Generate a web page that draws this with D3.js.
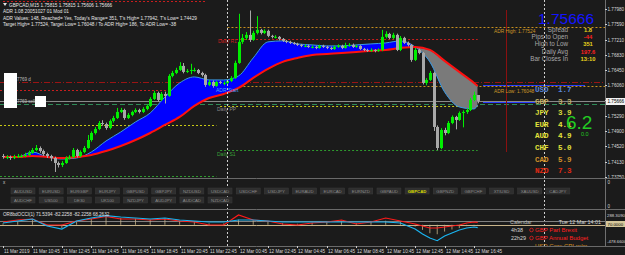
<!DOCTYPE html>
<html>
<head>
<meta charset="utf-8">
<script src="https://cdn.jsdelivr.net/npm/d3@7"></script>
<style>
body { margin: 0; background: #1b1b1b; overflow: hidden; }
svg { display: block; }
text { font-family: "Liberation Sans", Arial, sans-serif; }
.mono { font-family: "Liberation Mono", "Courier New", monospace; font-weight: bold; }
</style>
</head>
<body>
<div id="chart"></div>
<script>
// ---- GBPCAD M15 candles (bar 0 = 11 Mar 08:45) ----
const opens = [1.74279,1.74254,1.74254,1.74228,1.74254,1.74279,1.74279,1.74304,1.74354,1.74430,
  1.74480,1.74405,1.74329,1.74279,1.74228,1.74102,1.74052,1.74102,1.74228,1.74254,
  1.74430,1.74279,1.74380,1.74480,1.74682,1.74858,1.74959,1.75110,1.75085,1.74984,
  1.75161,1.75236,1.75388,1.75438,1.75236,1.75312,1.75388,1.75438,1.75388,1.75463,
  1.75539,1.75715,1.75866,1.75690,1.75841,1.75791,1.76295,1.76370,1.76446,1.76547,
  1.76396,1.76421,1.76446,1.76446,1.76370,1.76320,1.76068,1.76144,1.76043,1.76144,
  1.76118,1.76118,1.76169,1.76244,1.76622,1.77152,1.77252,1.77328,1.77202,1.77378,
  1.77454,1.77378,1.77429,1.77303,1.77278,1.77278,1.77227,1.77177,1.77152,1.77126,
  1.77101,1.77076,1.77051,1.77051,1.77026,1.77026,1.77000,1.77051,1.77026,1.77000,
  1.76975,1.77026,1.77051,1.77000,1.77051,1.77076,1.77026,1.77051,1.76975,1.76950,
  1.76925,1.76950,1.76925,1.76950,1.77278,1.77353,1.77252,1.77328,1.76950,1.77252,
  1.77126,1.77076,1.76698,1.76950,1.76874,1.76118,1.76194,1.76370,1.75010,1.74480,
  1.74934,1.74858,1.75110,1.75262,1.75186,1.75362,1.75388,1.75438,1.75690,1.75815];
const highs = [1.74330,1.74300,1.74290,1.74310,1.74330,1.74320,1.74360,1.74410,1.74480,1.74556,
  1.74520,1.74440,1.74360,1.74310,1.74260,1.74140,1.74150,1.74270,1.74300,1.74480,
  1.74460,1.74420,1.74530,1.74808,1.74900,1.75010,1.75160,1.75180,1.75120,1.75200,
  1.75290,1.75489,1.75490,1.75470,1.75360,1.75420,1.75480,1.75470,1.75510,1.75580,
  1.75760,1.75920,1.75900,1.75890,1.75900,1.76340,1.76420,1.76500,1.76640,1.76620,
  1.76470,1.76600,1.76500,1.76470,1.76400,1.76350,1.76190,1.76180,1.76170,1.76170,
  1.76160,1.76200,1.76290,1.76680,1.77860,1.77350,1.77400,1.77942,1.77430,1.77800,
  1.77480,1.77470,1.77460,1.77330,1.77320,1.77300,1.77250,1.77200,1.77180,1.77150,
  1.77130,1.77100,1.77090,1.77080,1.77060,1.77050,1.77080,1.77080,1.77050,1.77030,
  1.77060,1.77090,1.77080,1.77130,1.77120,1.77110,1.77080,1.77070,1.77000,1.76980,
  1.76990,1.76970,1.76990,1.77454,1.77420,1.77380,1.77380,1.77360,1.77300,1.77280,
  1.77160,1.77100,1.77000,1.76980,1.76900,1.76240,1.76420,1.76400,1.75050,1.74980,
  1.74990,1.75160,1.75300,1.75290,1.75400,1.75430,1.75480,1.75740,1.75900,1.75815];
const lows = [1.74210,1.74200,1.74180,1.74200,1.74230,1.74240,1.74250,1.74280,1.74330,1.74400,
  1.74360,1.74280,1.74230,1.74150,1.73876,1.73990,1.74000,1.74080,1.74190,1.74230,
  1.74240,1.74250,1.74350,1.74460,1.74640,1.74820,1.74930,1.75040,1.74940,1.74950,
  1.75120,1.75210,1.75360,1.75190,1.75210,1.75280,1.75360,1.75350,1.75360,1.75430,
  1.75510,1.75690,1.75650,1.75660,1.75600,1.75770,1.76260,1.76340,1.76420,1.76360,
  1.76370,1.76340,1.76400,1.76340,1.76280,1.76020,1.76040,1.76000,1.76020,1.76090,
  1.76060,1.76090,1.76140,1.76220,1.76600,1.77100,1.77200,1.77150,1.77180,1.77340,
  1.77340,1.77350,1.77270,1.77240,1.77240,1.77190,1.77150,1.77120,1.77100,1.77080,
  1.77050,1.77020,1.77020,1.77000,1.76990,1.76970,1.76980,1.77000,1.76970,1.76950,
  1.76950,1.77000,1.76970,1.76980,1.77030,1.77000,1.77000,1.76950,1.76920,1.76900,
  1.76900,1.76890,1.76900,1.76920,1.77240,1.77220,1.77220,1.76920,1.76920,1.77100,
  1.77040,1.76650,1.76670,1.76840,1.76080,1.76060,1.76170,1.74909,1.74429,1.74450,
  1.74800,1.74830,1.75080,1.74950,1.75160,1.75000,1.75340,1.75410,1.75660,1.75606];
const closes = [1.74254,1.74254,1.74228,1.74254,1.74279,1.74279,1.74304,1.74354,1.74430,1.74480,
  1.74405,1.74329,1.74279,1.74228,1.74102,1.74052,1.74102,1.74228,1.74254,1.74430,
  1.74279,1.74380,1.74480,1.74682,1.74858,1.74959,1.75110,1.75085,1.74984,1.75161,
  1.75236,1.75388,1.75438,1.75236,1.75312,1.75388,1.75438,1.75388,1.75463,1.75539,
  1.75715,1.75866,1.75690,1.75841,1.75791,1.76295,1.76370,1.76446,1.76547,1.76396,
  1.76421,1.76446,1.76446,1.76370,1.76320,1.76068,1.76144,1.76043,1.76144,1.76118,
  1.76118,1.76169,1.76244,1.76622,1.77152,1.77252,1.77328,1.77202,1.77378,1.77454,
  1.77378,1.77429,1.77303,1.77278,1.77278,1.77227,1.77177,1.77152,1.77126,1.77101,
  1.77076,1.77051,1.77051,1.77026,1.77026,1.77000,1.77051,1.77026,1.77000,1.76975,
  1.77026,1.77051,1.77000,1.77051,1.77076,1.77026,1.77051,1.76975,1.76950,1.76925,
  1.76950,1.76925,1.76950,1.77278,1.77353,1.77252,1.77328,1.76950,1.77252,1.77126,
  1.77076,1.76698,1.76950,1.76874,1.76118,1.76194,1.76370,1.75010,1.74480,1.74934,
  1.74858,1.75110,1.75262,1.75186,1.75362,1.75388,1.75438,1.75690,1.75815,1.75666];

// moving averages, sampled every 4 bars
const maIdx = [0,4,8,12,16,20,24,28,32,36,40,44,48,52,56,60,64,68,72,76,80,84,88,92,96,100,104,108,112,116,120,124,128,129];
const fastMA = [1.74254,1.74254,1.74380,1.74254,1.74203,1.74228,1.74380,1.74657,1.74884,1.75136,
  1.75362,1.75766,1.76118,1.76270,1.76194,1.76194,1.76295,1.76748,1.77152,1.77177,
  1.77101,1.77076,1.77051,1.77051,1.77076,1.77101,1.77126,1.77177,1.77026,1.76648,
  1.75892,1.75514,1.75463,1.75564];
const slowMA = [1.74254,1.74254,1.74279,1.74254,1.74228,1.74254,1.74304,1.74405,1.74531,1.74682,
  1.74858,1.75060,1.75262,1.75539,1.75740,1.75841,1.75992,1.76244,1.76471,1.76648,
  1.76748,1.76824,1.76849,1.76874,1.76900,1.76925,1.76950,1.77000,1.77026,1.76950,
  1.76673,1.76396,1.76118,1.76043];

// levels
const adrHigh = 1.77524, adrLow = 1.76048;
const dailyR1 = 1.77227, dailyPP = 1.75539, dailyS1 = 1.74430;
const prevR1 = 1.75942, prevPP = 1.75060, prevS1 = 1.73775;
const tradeLevel = 1.76144, bid = 1.75666, sellLevel = 1.75600;
const blueLevels = [1.76068, 1.75640];

// oscillator
const cciIdx = [0,4,8,12,16,20,24,28,32,36,40,44,48,52,56,60,64,68,72,76,80,84,88,92,96,100,104,108,112,114,116,118,120,122,124,126,128,129];
const cciRed = [82,141,170,-7,-7,111,170,250,170,170,141,170,111,82,-7,-7,288,141,111,23,
  -7,52,82,141,23,82,200,111,23,-36,-95,-95,-66,-36,-7,52,82,71.5394];
const cciBlue = [52,111,170,-36,-125,111,200,270,229,200,170,200,141,111,82,82,141,141,111,82,
  82,82,82,82,82,82,82,52,-125,-272,-390,-470,-331,-243,-154,-95,-66,-82.2258];
const cciHist = [40,100,150,-20,-100,100,180,250,200,180,150,180,120,100,40,40,150,130,100,50,
  30,60,80,100,50,80,120,80,-50,-150,-250,-280,-200,-140,-100,-40,-10,-5];

// axes
const priceTicks = ["1.77980","1.77590","1.77210","1.76830","1.76450","1.76060","1.75680","1.75290","1.74900","1.74520","1.74130","1.73750"];
const timeIdx = [0,8,16,24,32,40,48,56,64,72,80,88,96,104,112,120,128];
const timeLabels = ["11 Mar 2019","11 Mar 10:45","11 Mar 12:45","11 Mar 14:45","11 Mar 16:45","11 Mar 18:45",
  "11 Mar 20:45","11 Mar 22:45","12 Mar 00:45","12 Mar 02:45","12 Mar 04:45","12 Mar 06:45",
  "12 Mar 08:45","12 Mar 10:45","12 Mar 12:45","12 Mar 14:45","12 Mar 16:45"];

// panels
const headerLines = ["GBPCAD,M15  1.75815 1.75815 1.75606 1.75666",
  "ADR 1.08 20051027 01 Mod 01",
  "ADR Values: 148, Reached= Yes, Today's Range= 351, T's High= 1.77942, T's Low= 1.74429",
  "Target High= 1.77524, Target Low= 1.76048 / To ADR High= 186, To ADR Low= -38"];
const infoLabels = ["Spread","Pips to Open","High to Low","Daily Avg","Bar Closes In"];
const infoValues = ["1.8","-44","351","197.6","13:10"];
const currencies = ["USD","GBP","JPY","EUR","AUD","CHF","CAD","NZD"];
const strength = ["1.7","3.3","3.9","4.1","4.9","5.0","5.9","7.3"];
const buttonsRow1 = ["AUDUSD","EURUSD","EURGBP","EURJPY","GBPUSD","GBPJPY","NZDUSD","USDCAD","USDCHF","USDJPY",
  "EURAUD","EURCAD","EURNZD","GBPAUD","GBPCAD","GBPNZD","GBPCHF","XTIUSD","XAUUSD","CADJPY"];
const buttonsRow2 = ["AUDCHF","US500","DE30","UK100","NZDJPY","AUDJPY","AUDCAD","NZDCAD"];
const calTimes = ["4h38","22h29"];
const calEvents = ["GBP Parl Brexit","GBP Annual Budget"];

// ---------------------------------------------------------------
const R = 605;
const svg = d3.select("#chart").append("svg").attr("width", 625).attr("height", 255);
svg.append("rect").attr("width", 625).attr("height", 255).attr("fill", "#1b1b1b");

const x = d3.scaleLinear().domain([0, 129]).range([3, 477.7]);
const y = d3.scaleLinear().domain([1.73750, 1.77980]).range([177, 9]);
const yc = d3.scaleLinear().domain([-478.66, 288.309]).range([241, 215]);

const defs = svg.append("defs");
defs.append("clipPath").attr("id", "mainClip").append("rect").attr("x", 0).attr("y", 0).attr("width", R).attr("height", 178);
defs.append("clipPath").attr("id", "oscClip").append("rect").attr("x", 0).attr("y", 211).attr("width", R).attr("height", 35);

const main = svg.append("g").attr("clip-path", "url(#mainClip)");
const py = p => Math.round(y(p)) + 0.5;

function hline(g, p, x0, x1, color, dash, w) {
  g.append("line").attr("x1", x0).attr("x2", x1).attr("y1", py(p)).attr("y2", py(p))
    .attr("stroke", color).attr("stroke-width", w || 1).attr("stroke-dasharray", dash || null);
}

// levels
hline(main, tradeLevel, 0, R, "#9a1414", "6,2,1,2");
hline(main, prevR1, 0, x(58), "#c81e1e", "2,2");
hline(main, prevPP, 0, x(58), "#c8c814", "2,2");
hline(main, prevS1, 0, x(58), "#2e9a2e", "2,2");
hline(main, adrHigh, x(61), R, "#c8901e", "2,2");
hline(main, adrLow, x(61), R, "#c8901e", "2,2");
hline(main, dailyR1, x(59), x(129), "#c81e1e", "2,2");
hline(main, dailyPP, x(59), x(129), "#c8c814", "2,2");
hline(main, dailyS1, x(59), x(129), "#2e9a2e", "2,2");
hline(main, bid, 0, R, "#8a8a8a");
hline(main, sellLevel, 0, R, "#2e8b57", "5,3");
hline(main, blueLevels[0], 483, 585, "#2a3cff");
hline(main, blueLevels[1], 483, 535, "#2a3cff");

// MA fill
const ma = maIdx.map((d, k) => ({ i: d, f: fastMA[k], s: slowMA[k] }));
const aboveClip = defs.append("clipPath").attr("id", "above");
aboveClip.append("path").attr("d", d3.area().x(d => x(d.i)).y0(0).y1(d => y(d.s))(ma));
const belowClip = defs.append("clipPath").attr("id", "below");
belowClip.append("path").attr("d", d3.area().x(d => x(d.i)).y0(d => y(d.s)).y1(180)(ma));
const band = d3.area().x(d => x(d.i)).y0(d => y(d.s)).y1(d => y(d.f)).curve(d3.curveMonotoneX);
main.append("path").attr("d", band(ma)).attr("fill", "#0000ff").attr("clip-path", "url(#above)");
main.append("path").attr("d", band(ma)).attr("fill", "#7a7a7a").attr("clip-path", "url(#below)");
main.append("path").attr("d", d3.line().x(d => x(d.i)).y(d => y(d.f)).curve(d3.curveMonotoneX)(ma))
  .attr("fill", "none").attr("stroke", "#3a9ae6").attr("stroke-width", 1);
main.append("path").attr("d", d3.line().x(d => x(d.i)).y(d => y(d.s)).curve(d3.curveMonotoneX)(ma))
  .attr("fill", "none").attr("stroke", "#ff1010").attr("stroke-width", 2);

// candles
const bars = d3.range(closes.length).map(i => ({ i, o: opens[i], h: highs[i], l: lows[i], c: closes[i] }));
const cg = main.append("g");
const col = d => d.c >= d.o ? "#00ee00" : "#a8a8a8";
cg.selectAll("line.wick").data(bars).join("line")
  .attr("x1", d => Math.round(x(d.i)) + 0.5).attr("x2", d => Math.round(x(d.i)) + 0.5)
  .attr("y1", d => y(d.h)).attr("y2", d => y(d.l)).attr("stroke", col);
cg.selectAll("rect").data(bars).join("rect")
  .attr("x", d => Math.round(x(d.i)) - 1).attr("width", 3)
  .attr("y", d => y(Math.max(d.o, d.c)))
  .attr("height", d => Math.max(1, Math.abs(y(d.o) - y(d.c))))
  .attr("fill", col);

// vertical lines
main.append("line").attr("x1", 506.5).attr("x2", 506.5).attr("y1", 10).attr("y2", 152)
  .attr("stroke", "#8a1010").attr("stroke-width", 1);
[61, 147].forEach(i => {
  svg.append("line").attr("x1", Math.round(x(i)) + 0.5).attr("x2", Math.round(x(i)) + 0.5)
    .attr("y1", 0).attr("y2", 246).attr("stroke", "#cfcfcf").attr("stroke-dasharray", "2,2");
});

// level labels
main.append("text").attr("x", 218).attr("y", py(dailyR1) + 3).attr("font-size", 5).attr("fill", "#c82020").text("Daily R1");
main.append("text").attr("x", 216).attr("y", 92).attr("font-size", 5).attr("fill", "#4aa0ff").text("ADR Start");
main.append("text").attr("x", 217).attr("y", py(dailyPP) + 4).attr("font-size", 5).attr("fill", "#8a8a8a").text("Daily PP");
main.append("text").attr("x", 217).attr("y", py(dailyS1) + 5).attr("font-size", 5).attr("fill", "#3aa03a").text("Daily S1");
main.append("text").attr("x", 494).attr("y", py(adrHigh) + 5).attr("font-size", 4.8).attr("fill", "#d09a28").text("ADR High: 1.77524");
main.append("text").attr("x", 494).attr("y", py(adrLow) + 6).attr("font-size", 4.8).attr("fill", "#d09a28").text("ADR Low: 1.76048");

// trade boxes on the left
main.append("rect").attr("x", 4).attr("y", 73).attr("width", 13).attr("height", 35).attr("fill", "#ffffff");
main.append("rect").attr("x", 35).attr("y", 96).attr("width", 11).attr("height", 11).attr("fill", "#ffffff");
main.append("text").attr("x", 17).attr("y", 81).attr("font-size", 4.5).attr("fill", "#bdbdbd").text("7769 d");
main.append("text").attr("x", 17).attr("y", 103).attr("font-size", 4.5).attr("fill", "#bdbdbd").text("7769 sell");

// header
svg.append("path").attr("d", "M3,3 L7,3 L5,6 Z").attr("fill", "#e0e0e0");
headerLines.forEach((t, k) => {
  svg.append("text").attr("x", k === 0 ? 9 : 3).attr("y", 7 + k * 6.3).attr("font-size", 4.7)
    .attr("fill", "#e6e6e6").text(t);
});
svg.append("line").attr("x1", 3).attr("x2", 205).attr("y1", 1.5).attr("y2", 1.5).attr("stroke", "#c81e1e").attr("stroke-dasharray", "2,2");

// info panel
svg.append("text").attr("x", 594).attr("y", 24).attr("text-anchor", "end").attr("font-size", 15.5)
  .attr("fill", "#1414ff").text("1.75666");
const infoCol = ["#e8d21c", "#ff2020", "#e8d21c", "#ff2020", "#e8d21c"];
infoLabels.forEach((t, k) => {
  svg.append("text").attr("x", 568).attr("y", 31.5 + k * 7.4).attr("text-anchor", "end")
    .attr("font-size", 6.3).attr("fill", "#a8a8a8").text(t);
  svg.append("text").attr("x", 588).attr("y", 31.5 + k * 7.4).attr("text-anchor", "middle")
    .attr("font-size", 5.8).attr("font-weight", "bold").attr("fill", infoCol[k]).text(infoValues[k]);
});
const curCol = ["#5a86d8", "#c4b06a", "#dcdc3c", "#e4e43c", "#e4e43c", "#e4e43c", "#d0902a", "#e02a14"];
currencies.forEach((c, k) => {
  svg.append("text").attr("class", "mono").attr("x", 535).attr("y", 92 + k * 11.6).attr("font-size", 7.6).attr("fill", curCol[k]).text(c);
  svg.append("text").attr("class", "mono").attr("x", 558).attr("y", 92 + k * 11.6).attr("font-size", 7.6).attr("fill", curCol[k]).text(strength[k]);
});
svg.append("text").attr("x", 566).attr("y", 129).attr("font-size", 19).attr("fill", "#22cc22").text("6.2");
svg.append("text").attr("x", 581).attr("y", 136).attr("font-size", 5.5).attr("fill", "#22cc22").text("0.0");

// price axis
const ax = svg.append("g");
ax.append("line").attr("x1", R + 0.5).attr("x2", R + 0.5).attr("y1", 0).attr("y2", 246).attr("stroke", "#707070");
priceTicks.forEach(t => {
  const yy = py(+t);
  ax.append("line").attr("x1", R).attr("x2", R + 2).attr("y1", yy).attr("y2", yy).attr("stroke", "#cfcfcf");
  ax.append("text").attr("x", 607.5).attr("y", yy + 1.8).attr("font-size", 4.6).attr("fill", "#d8d8d8").text(t);
});
ax.append("rect").attr("x", 606).attr("y", py(bid) - 3.5).attr("width", 19).attr("height", 7).attr("fill", "#f2f2f2");
ax.append("text").attr("x", 607.5).attr("y", py(bid) + 1.8).attr("font-size", 4.6).attr("fill", "#000").text("1.75666");

// window separators
[178.5, 209.5, 246.5].forEach(v => svg.append("line").attr("x1", 0).attr("x2", 625).attr("y1", v).attr("y2", v).attr("stroke", "#6a6a6a"));

// buttons sub-window
svg.append("text").attr("x", 3).attr("y", 184).attr("font-size", 4.5).attr("fill", "#cfcfcf").text("x");
svg.append("text").attr("x", 607.5).attr("y", 184).attr("font-size", 4.5).attr("fill", "#cfcfcf").text("0");
svg.append("text").attr("x", 607.5).attr("y", 208).attr("font-size", 4.5).attr("fill", "#cfcfcf").text("0");
function drawButtons(list, yy) {
  const g = svg.append("g");
  list.forEach((b, k) => {
    const bx = 11 + k * 28.15;
    g.append("rect").attr("x", bx).attr("y", yy).attr("width", 24).attr("height", 6)
      .attr("fill", "#2e2e2e").attr("stroke", "#3a3a3a").attr("stroke-width", 0.5);
    g.append("text").attr("x", bx + 12).attr("y", yy + 4.5).attr("text-anchor", "middle").attr("font-size", 4.3)
      .attr("fill", b === "GBPCAD" ? "#d8d800" : "#8c8c8c").attr("font-weight", b === "GBPCAD" ? "bold" : null).text(b);
  });
}
drawButtons(buttonsRow1, 188);
drawButtons(buttonsRow2, 197);

// oscillator
const osc = svg.append("g").attr("clip-path", "url(#oscClip)");
osc.append("line").attr("x1", 0).attr("x2", R).attr("y1", Math.round(yc(100)) + 0.5).attr("y2", Math.round(yc(100)) + 0.5).attr("stroke", "#808080");
osc.append("line").attr("x1", 0).attr("x2", R).attr("y1", Math.round(yc(0)) + 0.5).attr("y2", Math.round(yc(0)) + 0.5).attr("stroke", "#c8b48a");
osc.selectAll("line.h").data(cciIdx).join("line").attr("class", "h")
  .attr("x1", d => x(d)).attr("x2", d => x(d)).attr("y1", yc(0)).attr("y2", (d, k) => yc(cciHist[k]))
  .attr("stroke", "#c8b48a").attr("stroke-width", 0.8);
const cline = vals => d3.line().x((d, k) => x(d)).y((d, k) => yc(vals[k]))(cciIdx);
osc.append("path").attr("d", cline(cciRed)).attr("fill", "none").attr("stroke", "#ff1a1a").attr("stroke-width", 1.2);
osc.append("path").attr("d", cline(cciBlue)).attr("fill", "none").attr("stroke", "#1ab4f0").attr("stroke-width", 1.2);
osc.append("text").attr("x", 3).attr("y", 216).attr("font-size", 4.6).attr("fill", "#e0e0e0")
  .text("OR8bdOCCI(1) 71.5394 -82.2258 -82.2258 68.2632");
// calendar
osc.append("text").attr("x", 510).attr("y", 224).attr("font-size", 5.4).attr("fill", "#bdbdbd").text("Calendar");
osc.append("text").attr("x", 601).attr("y", 224).attr("text-anchor", "end").attr("font-size", 5.4).attr("fill", "#d8d8d8").text("Tue 12 Mar 14:01");
calTimes.forEach((t, k) => {
  const yy = 232 + k * 8;
  osc.append("text").attr("x", 511).attr("y", yy).attr("font-size", 5.4).attr("fill", "#d8d8d8").text(t);
  osc.append("circle").attr("cx", 531.5).attr("cy", yy - 2).attr("r", 1.8).attr("fill", "none").attr("stroke", "#ff2020").attr("stroke-width", 0.7);
  osc.append("text").attr("x", 535).attr("y", yy).attr("font-size", 6).attr("fill", "#ff2020").text(calEvents[k]);
});
osc.append("text").attr("x", 535).attr("y", 248).attr("font-size", 6).attr("fill", "#d8901e").text("USD Core CPI m/m");
// oscillator axis labels
[["288.3090", 215], ["-478.6600", 241]].forEach(([t, v]) => {
  svg.append("text").attr("x", 607).attr("y", v + 1.8).attr("font-size", 4.3).attr("fill", "#d8d8d8").text(t);
});
svg.append("rect").attr("x", 606).attr("y", 221).attr("width", 19).attr("height", 6).attr("fill", "#d6c79a");
svg.append("text").attr("x", 607.5).attr("y", 225.6).attr("font-size", 4.3).attr("fill", "#000").text("70.0000");

// time axis
timeIdx.forEach((d, k) => {
  const tx = Math.round(x(d)) + 0.5;
  svg.append("line").attr("x1", tx).attr("x2", tx).attr("y1", 246).attr("y2", 248).attr("stroke", "#cfcfcf");
  svg.append("text").attr("x", tx + 0.5).attr("y", 252.5).attr("font-size", 4.6).attr("fill", "#d8d8d8").text(timeLabels[k]);
});
</script>
</body>
</html>
